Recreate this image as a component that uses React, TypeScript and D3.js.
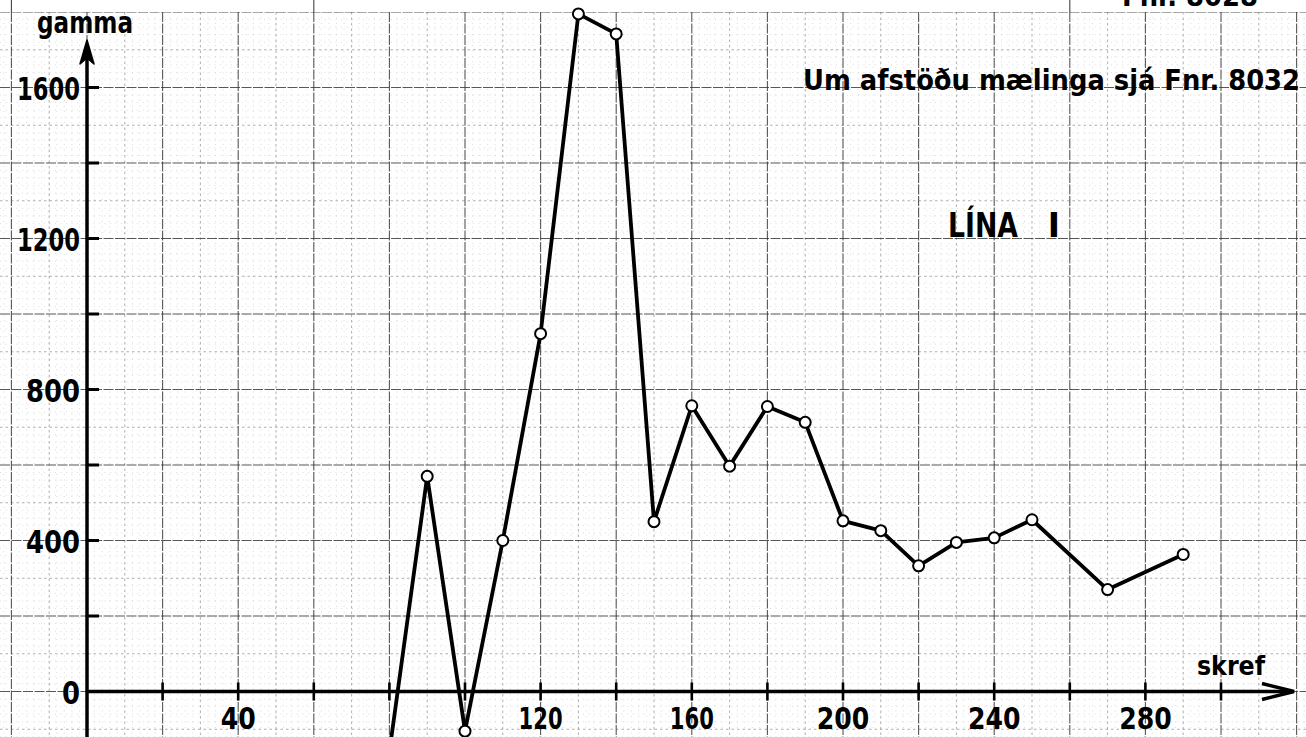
import React from "react";
import * as d3 from "d3";

// ---- data ----
const skref = [80, 90, 100, 110, 120, 130, 140, 150, 160, 170, 180, 190, 200, 210, 220, 230, 240, 250, 270, 290];
const gamma = [-160, 570, -105, 400, 948, 1795, 1742, 450, 757, 597, 755, 713, 452, 426, 333, 395, 407, 455, 270, 363];
const xTickValues = [20, 40, 60, 80, 100, 120, 140, 160, 180, 200, 220, 240, 260, 280, 300];
const xTickLabels = ["40", "120", "160", "200", "240", "280"];
const yTickValues = [200, 400, 600, 800, 1000, 1200, 1400, 1600];
const yTickLabels = ["0", "400", "800", "1200", "1600"];
const xAxisTitle = "skref";
const yAxisTitle = "gamma";
const noteText = "Um afstöðu mælinga sjá Fnr. 8032";
const lineTitle = "LÍNA";
const lineNumber = "I";
const sheetRef = "Fnr. 8028";

const W = 1306;
const H = 737;
const FONT = "'DejaVu Sans', 'Liberation Sans', sans-serif";

const x = d3.scaleLinear().domain([0, 300]).range([87, 87 + 3.78 * 300]);
const y = d3.scaleLinear().domain([0, 1600]).range([691.5, 87.5]);

function digitWidth(s: string, d: number, one: number) {
  let w = 0;
  for (const c of s) w += c === "1" ? one : d;
  return w;
}

export default function App() {
  const xMin = Math.ceil(x.invert(0));
  const xMax = Math.floor(x.invert(W));
  const paperTop = y(1800);

  const vLines: { v: number; kind: number }[] = [];
  for (let v = xMin - (xMin % 2 === 0 ? 0 : 1); v <= xMax; v += 2) {
    vLines.push({ v, kind: v % 20 === 0 ? 2 : v % 10 === 0 ? 1 : 0 });
  }
  const hLines: { v: number; kind: number }[] = [];
  for (let v = -120; v <= 1800; v += 20) {
    hLines.push({ v, kind: v % 200 === 0 ? 2 : v % 100 === 0 ? 1 : 0 });
  }
  const gridStyle = [
    { stroke: "#b0b0b0", sw: 0.8, dash: "1,4.5", op: 0.55 },
    { stroke: "#808080", sw: 0.9, dash: "2.5,3", op: 0.7 },
    { stroke: "#3a3a3a", sw: 1.1, dash: "10,1.5", op: 0.85 },
  ];

  const pts = skref.map((s, i) => [x(s), y(gamma[i])] as [number, number]);
  const line = d3.line<[number, number]>().x((d) => d[0]).y((d) => d[1]);

  const x0 = x(0);
  const y0 = y(0);

  return (
    <svg
      width={W}
      height={H}
      viewBox={`0 0 ${W} ${H}`}
      style={{ position: "absolute", left: 0, top: 0, background: "#fff" }}
      fontFamily={FONT}
    >
      <defs>
        <clipPath id="paper">
          <rect x={0} y={paperTop} width={W} height={H - paperTop} />
        </clipPath>
        <clipPath id="all">
          <rect x={0} y={0} width={W} height={H} />
        </clipPath>
      </defs>
      <rect x={0} y={0} width={W} height={H} fill="#fff" />

      {/* graph paper */}
      <g clipPath="url(#paper)">
        {[0, 1, 2].map((k) => (
          <g key={k}>
            {vLines
              .filter((l) => l.kind === k)
              .map((l) => (
                <line
                  key={"v" + l.v}
                  x1={x(l.v)}
                  x2={x(l.v)}
                  y1={paperTop}
                  y2={H}
                  stroke={gridStyle[k].stroke}
                  strokeWidth={gridStyle[k].sw}
                  strokeDasharray={gridStyle[k].dash}
                  opacity={gridStyle[k].op}
                />
              ))}
            {hLines
              .filter((l) => l.kind === k)
              .map((l) => (
                <line
                  key={"h" + l.v}
                  x1={0}
                  x2={W}
                  y1={y(l.v)}
                  y2={y(l.v)}
                  stroke={gridStyle[k].stroke}
                  strokeWidth={gridStyle[k].sw}
                  strokeDasharray={gridStyle[k].dash}
                  opacity={gridStyle[k].op}
                />
              ))}
          </g>
        ))}
      </g>
      {/* sheet edge lines running up to the top */}
      {[-20, 60, 260].map((v) => (
        <line key={"e" + v} x1={x(v)} x2={x(v)} y1={0} y2={paperTop} stroke="#444" strokeWidth={1.1} />
      ))}

      {/* sheet reference at the top (cut off, as in the scan) */}
      <text x={1122} y={6} fontSize={29} fontWeight="bold" textLength={136} lengthAdjust="spacingAndGlyphs">
        {sheetRef}
      </text>

      {/* axes */}
      <line x1={x0} x2={x0} y1={H} y2={46} stroke="#000" strokeWidth={3.5} />
      <path d={`M${x0},40 L${x0 - 7},64 L${x0},58 L${x0 + 7},64 Z`} fill="#000" stroke="#000" strokeWidth={1.5} strokeLinejoin="round" />
      <line x1={x0} x2={1292} y1={y0} y2={y0} stroke="#000" strokeWidth={3.5} />
      <path
        d={`M1262,${y0 - 8} L1294,${y0} L1262,${y0 + 8}`}
        fill="none"
        stroke="#000"
        strokeWidth={3.5}
        strokeLinejoin="miter"
      />

      {xTickValues.map((v) => (
        <line key={"xt" + v} x1={x(v)} x2={x(v)} y1={y0 - 9} y2={y0 + 9} stroke="#000" strokeWidth={2.6} />
      ))}
      {yTickValues.map((v) => (
        <line key={"yt" + v} x1={x0} x2={x0 + 12} y1={y(v)} y2={y(v)} stroke="#000" strokeWidth={3} />
      ))}

      {xTickLabels.map((s) => (
        <text
          key={"xl" + s}
          x={x(+s)}
          y={729}
          fontSize={31}
          fontWeight="bold"
          textAnchor="middle"
          textLength={digitWidth(s, 17.5, 9)}
          lengthAdjust="spacingAndGlyphs"
        >
          {s}
        </text>
      ))}
      {yTickLabels.map((s) => (
        <text
          key={"yl" + s}
          x={80}
          y={y(+s) + 12}
          fontSize={32}
          fontWeight="bold"
          textAnchor="end"
          textLength={digitWidth(s, 18, 9)}
          lengthAdjust="spacingAndGlyphs"
        >
          {s}
        </text>
      ))}

      {/* titles */}
      <text x={37} y={33} fontSize={31} fontWeight="bold" textLength={96} lengthAdjust="spacingAndGlyphs">
        {yAxisTitle}
      </text>
      <text x={1197} y={675} fontSize={27} fontWeight="bold" textLength={68} lengthAdjust="spacingAndGlyphs">
        {xAxisTitle}
      </text>
      <text x={803} y={90} fontSize={29} fontWeight="bold" textLength={497} lengthAdjust="spacingAndGlyphs">
        {noteText}
      </text>
      <text x={948} y={237} fontSize={33} fontWeight="bold" textLength={70} lengthAdjust="spacingAndGlyphs">
        {lineTitle}
      </text>
      <text x={1054} y={237} fontSize={33} fontWeight="bold" textAnchor="middle">
        {lineNumber}
      </text>

      {/* data */}
      <g clipPath="url(#all)">
        <path d={line(pts) || ""} fill="none" stroke="#000" strokeWidth={3.8} strokeLinejoin="round" />
        {pts.map((p, i) => (
          <circle key={"p" + i} cx={p[0]} cy={p[1]} r={5.5} fill="#fff" stroke="#000" strokeWidth={2} />
        ))}
      </g>
    </svg>
  );
}
